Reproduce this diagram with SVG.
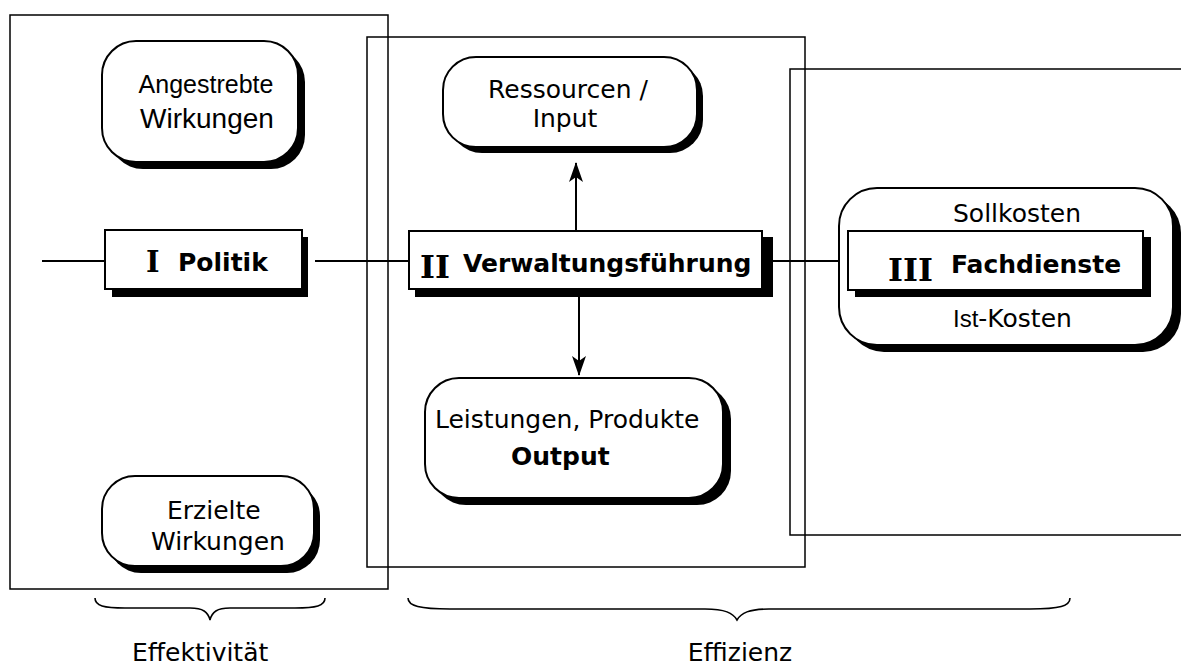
<svg xmlns="http://www.w3.org/2000/svg" width="1181" height="666" viewBox="0 0 1181 666">
<defs>
<style>
.frame{fill:none;stroke:#000;stroke-width:1.5}
.node{fill:#fff;stroke:#000;stroke-width:2}
.shadow{fill:#000}
.line{fill:none;stroke:#000;stroke-width:2}
.brace{fill:none;stroke:#000;stroke-width:1.6}
.dv{font-family:"DejaVu Sans",Verdana,sans-serif;font-size:25px;fill:#000}
.dvb{font-family:"DejaVu Sans",Verdana,sans-serif;font-size:25px;font-weight:bold;fill:#000}
.ar{font-family:"Liberation Sans",Arial,sans-serif;fill:#000}
.rom{font-family:"DejaVu Serif",serif;font-weight:bold;fill:#000}
</style>
<marker id="arr" viewBox="0 0 20 14" refX="19" refY="7" markerWidth="20" markerHeight="14" markerUnits="userSpaceOnUse" orient="auto">
<path d="M0,0 L20,7 L0,14 L5,7 z" fill="#000"/>
</marker>
</defs>
<rect width="1181" height="666" fill="#fff"/>

<g id="frames">
<rect class="frame" x="10" y="15" width="378" height="574"/>
<rect class="frame" x="367" y="37" width="438" height="530"/>
<rect class="frame" x="790" y="69" width="420" height="466"/>
</g>

<g id="connectors">
<line class="line" x1="42" y1="261" x2="105" y2="261"/>
<line class="line" x1="315" y1="261" x2="409" y2="261"/>
<line class="line" x1="762" y1="261" x2="843" y2="261"/>
<line class="line" x1="576" y1="230" x2="576" y2="163" marker-end="url(#arr)"/>
<line class="line" x1="579" y1="297" x2="579" y2="375" marker-end="url(#arr)"/>
</g>

<g id="angestrebte">
<rect class="shadow" x="109" y="48" width="196" height="121" rx="34"/>
<rect class="node" x="102" y="41" width="196" height="121" rx="34"/>
<text class="ar" x="206" y="93" font-size="25" text-anchor="middle">Angestrebte</text>
<text class="ar" x="207" y="128" font-size="28" text-anchor="middle">Wirkungen</text>
</g>

<g id="politik">
<rect class="shadow" x="112" y="237" width="196" height="60"/>
<rect class="node" x="105" y="230" width="197" height="59"/>
<text class="rom" x="146" y="272" font-size="29">I</text>
<text class="dvb" x="178" y="271">Politik</text>
</g>

<g id="ressourcen">
<rect class="shadow" x="449" y="63" width="254" height="90" rx="33"/>
<rect class="node" x="443" y="57" width="254" height="90" rx="33"/>
<text class="dv" x="568" y="98" text-anchor="middle">Ressourcen /</text>
<text class="dv" x="565" y="127" text-anchor="middle">Input</text>
</g>

<g id="verwaltung">
<rect class="shadow" x="415" y="237" width="358" height="60"/>
<rect class="node" x="409" y="231" width="353" height="58"/>
<text class="rom" x="420" y="278" font-size="32">II</text>
<text class="dvb" x="463" y="272">Verwaltungsführung</text>
</g>

<g id="leistungen">
<rect class="shadow" x="432" y="385" width="299" height="120" rx="34"/>
<rect class="node" x="425" y="378" width="298" height="120" rx="34"/>
<text class="dv" x="435" y="428">Leistungen, Produkte</text>
<text class="dvb" x="511" y="465">Output</text>
</g>

<g id="erzielte">
<rect class="shadow" x="108" y="483" width="212" height="90" rx="33"/>
<rect class="node" x="102" y="476" width="212" height="90" rx="33"/>
<text class="dv" x="167" y="519">Erzielte</text>
<text class="dv" x="151" y="550">Wirkungen</text>
</g>

<g id="kosten">
<rect class="shadow" x="846" y="195" width="335" height="157" rx="38"/>
<rect class="node" x="839" y="188" width="334" height="157" rx="38"/>
<text class="dv" x="953" y="222">Sollkosten</text>
<text x="953" y="327"><tspan class="ar" font-size="24">Ist</tspan><tspan class="dv">-Kosten</tspan></text>
</g>

<g id="fachdienste">
<rect class="shadow" x="855" y="237" width="296" height="60"/>
<rect class="node" x="848" y="231" width="295" height="59"/>
<text class="rom" x="888" y="281" font-size="32">III</text>
<text class="dvb" x="951" y="273">Fachdienste</text>
</g>

<g id="effektivitaet">
<path class="brace" d="M95,598 C95,606 104,608 125,608 L190,608 C203,608 208,612 210,620 C212,612 217,608 230,608 L295,608 C316,608 325,606 325,598"/>
<text class="dv" x="132" y="661" font-size="27.5">Effektivität</text>
</g>

<g id="effizienz">
<path class="brace" d="M408,598 C408,606 420,609 450,609 L705,609 C725,609 733,613 737,620 C741,613 749,609 769,609 L1030,609 C1060,609 1070,606 1070,598"/>
<text class="dv" x="740" y="661" font-size="27.5" text-anchor="middle">Effizienz</text>
</g>
</svg>
